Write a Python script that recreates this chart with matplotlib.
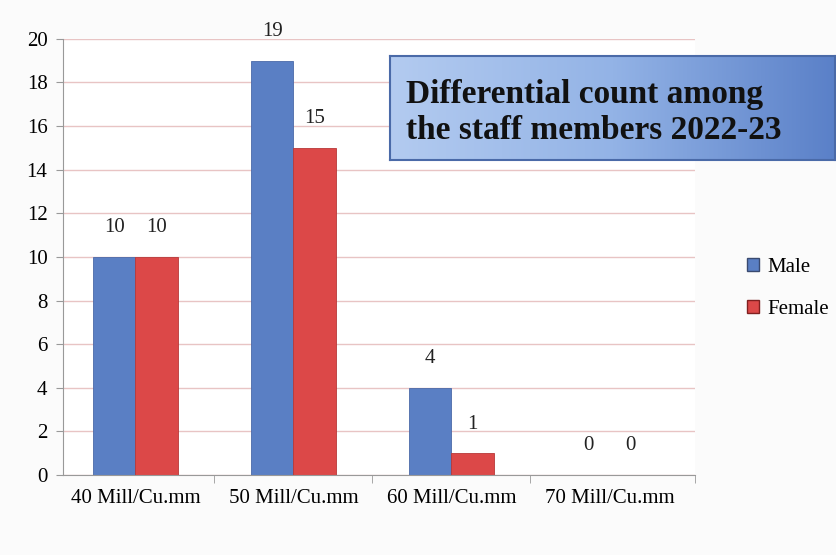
import numpy as np
import matplotlib
matplotlib.use('Agg')
import matplotlib.pyplot as plt
from matplotlib.patches import Patch

# Differential count data
categories = ['40 Mill/Cu.mm', '50 Mill/Cu.mm', '60 Mill/Cu.mm', '70 Mill/Cu.mm']
male = [10, 19, 4, 0]
female = [10, 15, 1, 0]

blue = '#5a7fc4'
red = '#dc4848'
grid_col = '#e8c4c4'

plt.rcParams['font.family'] = ['Liberation Serif', 'DejaVu Serif']

fig = plt.figure(figsize=(8.37, 5.55), dpi=100)
fig.patch.set_facecolor('#fbfbfb')
ax = fig.add_axes([0.075, 0.144, 0.755, 0.786])
ax.set_facecolor('white')

x = np.arange(len(categories))
w = 0.27
b1 = ax.bar(x - w/2, male, w, color=blue, edgecolor='#4a6aa8', linewidth=0.6, label='Male')
b2 = ax.bar(x + w/2, female, w, color=red, edgecolor='#b83838', linewidth=0.6, label='Female')

for bars, vals in ((b1, male), (b2, female)):
    for r, v in zip(bars, vals):
        ax.text(r.get_x() + r.get_width()/2, v + 0.9, str(v), ha='center', va='bottom',
                fontsize=15, color='#222222')

ax.set_xlim(-0.46, 3.54)
ax.set_ylim(0, 20)
ax.set_yticks(range(0, 21, 2))
ax.yaxis.grid(True, color=grid_col, linewidth=1.0)
ax.set_axisbelow(True)
ax.set_xticks(x)
ax.set_xticklabels(categories, fontsize=15)
ax.set_xticks(list(x[:-1] + 0.5) + [3.54], minor=True)
ax.tick_params(axis='x', which='major', length=0, pad=10)
ax.tick_params(axis='x', which='minor', length=6, color='#999999')
ax.tick_params(axis='y', labelsize=15, length=5, color='#999999', pad=6)
for s in ['top', 'right']:
    ax.spines[s].set_visible(False)
ax.spines['left'].set_color('#999999')
ax.spines['bottom'].set_color('#999999')

ax.legend(handles=[Patch(facecolor=blue, edgecolor='#3a4a70', label='Male'),
                   Patch(facecolor=red, edgecolor='#802020', label='Female')],
          loc='center left', bbox_to_anchor=(0.87, 0.48), bbox_transform=fig.transFigure,
          frameon=False, fontsize=15, handlelength=0.6, handleheight=0.6,
          handletextpad=0.4, labelspacing=1.1)

# Title box with blue gradient
tax = fig.add_axes([0.466, 0.712, 0.532, 0.188])
grad = np.linspace(0, 1, 256).reshape(1, -1)
tax.imshow(grad, aspect='auto', cmap=matplotlib.colors.LinearSegmentedColormap.from_list(
    'tb', ['#b3cbf0', '#93b3e6', '#5a80c8']), extent=[0, 1, 0, 1])
tax.set_xlim(0, 1)
tax.set_ylim(0, 1)
tax.set_xticks([])
tax.set_yticks([])
for s in tax.spines.values():
    s.set_color('#4a6aa8')
    s.set_linewidth(1.5)
tax.text(0.035, 0.45, 'Differential count among\nthe staff members 2022-23',
         ha='left', va='center', fontsize=24, fontweight='bold', color='#111111',
         linespacing=1.2)

fig.savefig('out.png', dpi=100, facecolor=fig.get_facecolor())
